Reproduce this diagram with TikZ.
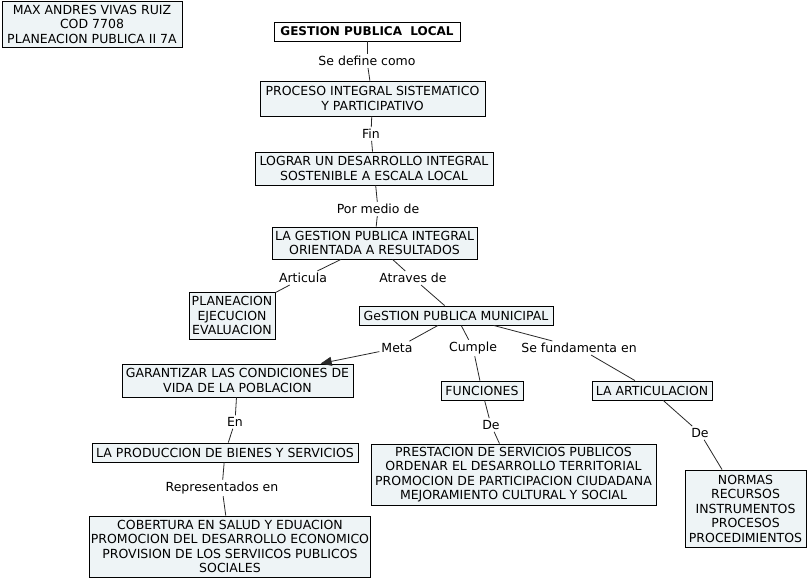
\documentclass[tikz,border=0pt]{standalone}
\usepackage{fontspec}
\setmainfont{DejaVu Sans}
\usetikzlibrary{arrows.meta}
\definecolor{boxfill}{RGB}{238,244,246}
\definecolor{linec}{RGB}{40,40,40}
\begin{document}
\begin{tikzpicture}[x=1pt,y=-1pt,
  every node/.style={font=\fontsize{12.5}{14.5}\selectfont},
  cbox/.style={draw=black,line width=0.9pt,fill=boxfill,align=center,inner sep=1pt},
  lbl/.style={inner sep=2pt,fill=white},
  conn/.style={draw=linec,line width=0.8pt},
  arr/.style={conn,-{Triangle[length=11pt,width=9pt]}}]
\useasboundingbox[fill=white] (0,0) rectangle (808,580);
% boxes
\node[cbox,minimum width=180,minimum height=46] (max) at (92,24) {MAX ANDRES VIVAS RUIZ\\COD 7708\\PLANEACION PUBLICA II 7A};
\node[cbox,fill=white,minimum width=186,minimum height=19,font=\fontsize{12}{14}\selectfont\bfseries] (gpl) at (367,31.5) {GESTION PUBLICA\ \ LOCAL};
\node[cbox,minimum width=225,minimum height=35] (proc) at (372.5,98.5) {PROCESO INTEGRAL SISTEMATICO\\Y PARTICIPATIVO};
\node[cbox,minimum width=238,minimum height=33] (log) at (374,168.5) {LOGRAR UN DESARROLLO INTEGRAL\\SOSTENIBLE A ESCALA LOCAL};
\node[cbox,minimum width=205,minimum height=32] (gpi) at (374.5,243) {LA GESTION PUBLICA INTEGRAL\\ORIENTADA A RESULTADOS};
\node[cbox,minimum width=86,minimum height=47] (plan) at (232,315.5) {PLANEACION\\EJECUCION\\EVALUACION};
\node[cbox,minimum width=194,minimum height=19] (gpm) at (456,315.5) {GeSTION PUBLICA MUNICIPAL};
\node[cbox,minimum width=231,minimum height=33] (gar) at (237.5,380.5) {GARANTIZAR LAS CONDICIONES DE\\VIDA DE LA POBLACION};
\node[cbox,minimum width=82,minimum height=19] (fun) at (482,390.5) {FUNCIONES};
\node[cbox,minimum width=120,minimum height=19] (art) at (652,390.5) {LA ARTICULACION};
\node[cbox,minimum width=266,minimum height=19] (prod) at (225,452.5) {LA PRODUCCION DE BIENES Y SERVICIOS};
\node[cbox,minimum width=285,minimum height=61] (pres) at (513.5,474.5) {PRESTACION DE SERVICIOS PUBLICOS\\ORDENAR EL DESARROLLO TERRITORIAL\\PROMOCION DE PARTICIPACION CIUDADANA\\MEJORAMIENTO CULTURAL Y SOCIAL};
\node[cbox,minimum width=121,minimum height=77] (norm) at (745.5,508.5) {NORMAS\\RECURSOS\\INSTRUMENTOS\\PROCESOS\\PROCEDIMIENTOS};
\node[cbox,minimum width=280,minimum height=61] (cob) at (230,546.5) {COBERTURA EN SALUD Y EDUACION\\PROMOCION DEL DESARROLLO ECONOMICO\\PROVISION DE LOS SERVIICOS PUBLICOS\\SOCIALES};
% labels
\node[lbl] (l1) at (367,61) {Se define como};
\node[lbl] (l2) at (371,134) {Fin};
\node[lbl] (l3) at (378,209) {Por medio de};
\node[lbl] (l4) at (303,278) {Articula};
\node[lbl] (l5) at (413,278) {Atraves de};
\node[lbl] (l6) at (397,348) {Meta};
\node[lbl] (l7) at (473,348) {Cumple};
\node[lbl] (l8) at (579,348) {Se fundamenta en};
\node[lbl] (l9) at (235,422) {En};
\node[lbl] (l10) at (491,425) {De};
\node[lbl] (l11) at (700,433) {De};
\node[lbl] (l12) at (222,488) {Representados en};
% connectors
\draw[conn] (gpl) -- (l1); \draw[conn] (l1) -- (proc);
\draw[conn] (proc) -- (l2); \draw[conn] (l2) -- (log);
\draw[conn] (log) -- (l3); \draw[conn] (l3) -- (gpi);
\draw[conn] (gpi) -- (l4); \draw[conn] (l4) -- (plan);
\draw[conn] (gpi) -- (l5); \draw[conn] (l5) -- (gpm);
\draw[conn] (gpm) -- (l6); \draw[arr] (l6) -- (gar);
\draw[conn] (gpm) -- (l7); \draw[conn] (l7) -- (fun);
\draw[conn] (gpm) -- (l8); \draw[conn] (l8) -- (art);
\draw[conn] (gar) -- (l9); \draw[conn] (l9) -- (prod);
\draw[conn] (fun) -- (l10); \draw[conn] (l10) -- (pres);
\draw[conn] (art) -- (l11); \draw[conn] (l11) -- (norm);
\draw[conn] (prod) -- (l12); \draw[conn] (l12) -- (cob);
\end{tikzpicture}
\end{document}
